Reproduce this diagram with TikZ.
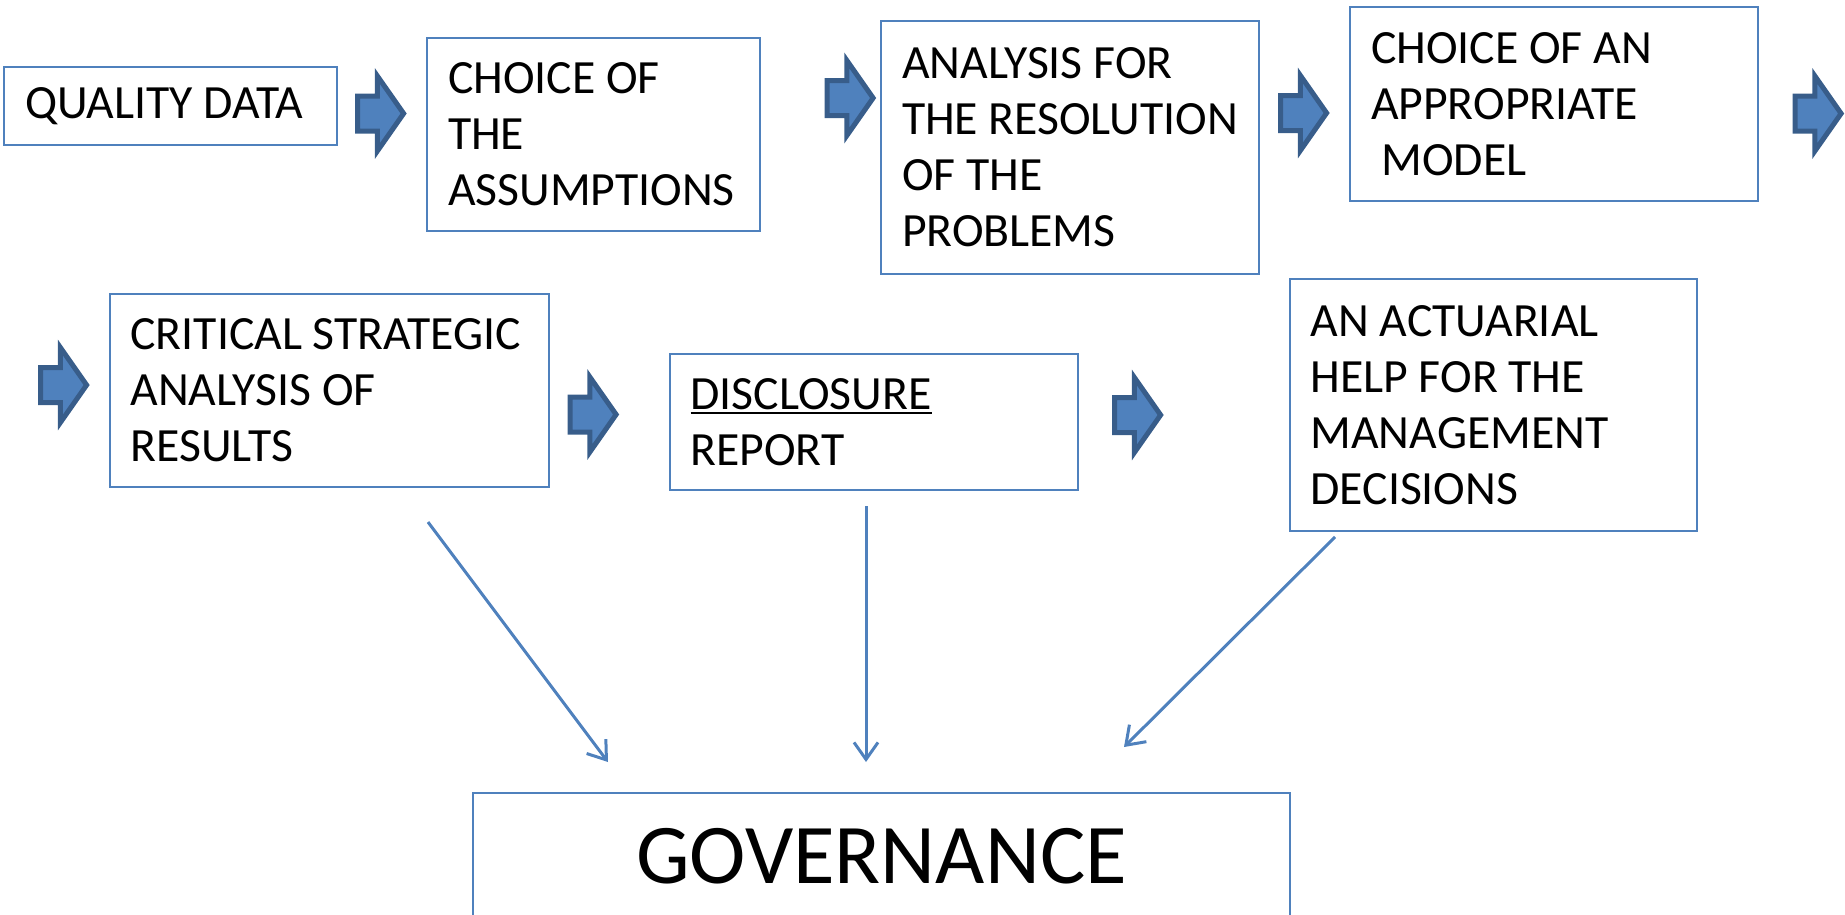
\documentclass[tikz,border=0pt]{standalone}
\usepackage{fontspec}
\setmainfont{Carlito}
\usetikzlibrary{shapes.arrows,arrows.meta}
\definecolor{boxblue}{HTML}{4F81BD}
\definecolor{arrowfill}{HTML}{4F81BD}
\definecolor{arrowedge}{HTML}{385D8A}
% thick underline that sits just under the caps
\newcommand{\thickul}[1]{\setbox0\hbox{#1}\rlap{\rule[-5pt]{\wd0}{2.5pt}}\box0}
\begin{document}
\begin{tikzpicture}[x=1pt, y=-1pt,
  box/.style={draw=boxblue, line width=2pt, rectangle, align=flush left, inner xsep=21pt, inner ysep=0pt, font=\fontsize{47.7}{56}\selectfont},
  govbox/.style={draw=boxblue, line width=2pt, rectangle, align=center, font=\fontsize{85}{100}\selectfont},
  blockarrow/.style={single arrow, draw=arrowedge, fill=arrowfill, line width=5pt, inner xsep=0pt, inner ysep=15pt, minimum height=46pt, single arrow head extend=20pt, single arrow tip angle=110},
  link/.style={boxblue, line width=3pt, -{Straight Barb[length=17pt, width=24pt]}}]
  \useasboundingbox (0, 0) rectangle (1845, 914);
  \clip (0, 0) rectangle (1845, 914);

  % first row of steps
  \node[box, text width=291pt, minimum height=78pt] (quality) at (170.5, 106) {QUALITY DATA};
  \node[box, text width=291pt, minimum height=193pt] (assumptions) at (593.5, 134) {CHOICE OF\\THE\\ASSUMPTIONS};
  \node[box, text width=336pt, minimum height=253pt] (analysis) at (1070, 147.5) {ANALYSIS FOR\\THE~RESOLUTION\\OF THE\\PROBLEMS};
  \node[box, text width=366pt, minimum height=194pt] (model) at (1554, 104) {CHOICE OF AN\\APPROPRIATE\\\hspace*{10.5pt}MODEL};

  % second row of steps
  \node[box, text width=397pt, minimum height=193pt] (critical) at (329, 390.5) {CRITICAL STRATEGIC\\ANALYSIS OF\\RESULTS};
  \node[box, text width=366pt, minimum height=136pt] (disclosure) at (873.5, 422) {\thickul{DISCLOSURE}\\REPORT};
  \node[box, text width=365pt, minimum height=252pt] (actuarial) at (1493, 405) {AN ACTUARIAL\\HELP FOR THE\\MANAGEMENT\\DECISIONS};

  % block arrows between the steps
  \node[blockarrow] (a1) at (374.5, 113.5) {};
  \node[blockarrow] (a2) at (844, 98) {};
  \node[blockarrow] (a3) at (1297.5, 113) {};
  \node[blockarrow] (a4) at (1812, 113.5) {};
  \node[blockarrow] (a5) at (57.5, 385) {};
  \node[blockarrow] (a6) at (587, 414.5) {};
  \node[blockarrow] (a7) at (1131.5, 415) {};

  % governance at the bottom, cut by the page edge
  \node[govbox, minimum width=817pt, minimum height=126pt] (governance) at (881.5, 856) {GOVERNANCE};

  % lines down to governance
  \coordinate (critical-out) at (428, 522);
  \coordinate (gov-in-left) at (608, 762);
  \coordinate (disclosure-out) at (866, 506);
  \coordinate (gov-in-mid) at (866, 762);
  \coordinate (actuarial-out) at (1335, 537);
  \coordinate (gov-in-right) at (1124, 747);
  \draw[link] (critical-out) -- (gov-in-left);
  \draw[link] (disclosure-out) -- (gov-in-mid);
  \draw[link] (actuarial-out) -- (gov-in-right);
\end{tikzpicture}
\end{document}
